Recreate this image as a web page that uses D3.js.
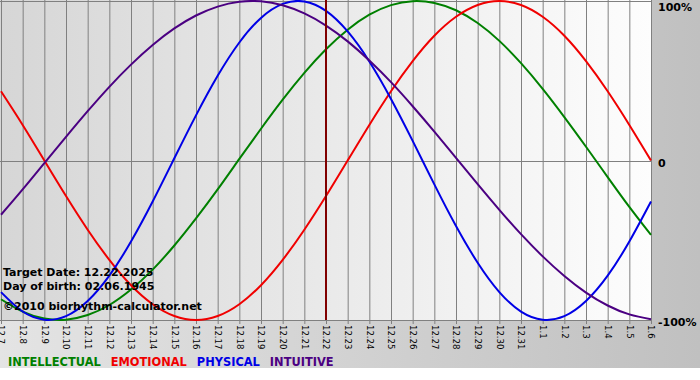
<!DOCTYPE html>
<html>
<head>
<meta charset="utf-8">
<script src="https://cdn.jsdelivr.net/npm/d3@7"></script>
<style>
body { margin: 0; background: #fff; }
</style>
</head>
<body>
<svg id="chart" width="700" height="380"></svg>
<script>

var days = ["12.7","12.8","12.9","12.10","12.11","12.12","12.13","12.14","12.15","12.16",
            "12.17","12.18","12.19","12.20","12.21","12.22","12.23","12.24","12.25","12.26",
            "12.27","12.28","12.29","12.30","12.31","1.1","1.2","1.3","1.4","1.5","1.6"];

var intellectual = [-0.87,-0.948,-0.991,-0.998,-0.969,-0.906,-0.809,-0.684,-0.533,-0.363,
                    -0.181,0.01,0.199,0.381,0.549,0.697,0.82,0.914,0.974,0.999,
                    0.988,0.942,0.862,0.75,0.61,0.449,0.272,0.086,-0.104,-0.291,-0.467];
var emotional = [0.434,0.223,0,-0.223,-0.434,-0.623,-0.782,-0.901,-0.975,-1,
                 -0.975,-0.901,-0.782,-0.623,-0.434,-0.223,0,0.223,0.434,0.623,
                 0.782,0.901,0.975,1,0.975,0.901,0.782,0.623,0.434,0.223,0];
var physical = [-0.825,-0.947,-0.998,-0.976,-0.881,-0.722,-0.508,-0.257,0.014,0.283,
                0.531,0.74,0.894,0.982,0.997,0.938,0.809,0.621,0.386,0.123,
                -0.15,-0.411,-0.641,-0.825,-0.947,-0.998,-0.976,-0.881,-0.722,-0.508,-0.257];
var intuitive = [-0.34,-0.181,-0.016,0.148,0.309,0.462,0.601,0.724,0.828,0.909,
                 0.965,0.995,0.998,0.973,0.922,0.846,0.747,0.627,0.491,0.34,
                 0.181,0.016,-0.148,-0.309,-0.462,-0.601,-0.724,-0.828,-0.909,-0.965,-0.995];

var seriesNames = ["INTELLECTUAL","EMOTIONAL","PHYSICAL","INTUITIVE"];
var seriesColors = ["#008000","#f00000","#0000e6","#4b0082"];
var targetDay = "12.22";
var yTicks = [1, 0, -1];
var yTickLabels = ["100%", "0", "-100%"];
var infoLines = ["Target Date: 12.22.2025", "Day of birth: 02.06.1945", "\u00a92010 biorhythm-calculator.net"];

var svg = d3.select("#chart");
var plotLeft = 1, plotRight = 651, plotTop = 1, plotBottom = 320;

var x = d3.scalePoint().domain(days).range([plotLeft, plotRight]);
var y = d3.scaleLinear().domain([-1, 1]).range([plotBottom, plotTop]);

// backgrounds
var defs = svg.append("defs");
var g1 = defs.append("linearGradient").attr("id", "bgOuter");
g1.append("stop").attr("offset", "0%").attr("stop-color", "#e4e4e4");
g1.append("stop").attr("offset", "100%").attr("stop-color", "#c0c0c0");
var g2 = defs.append("linearGradient").attr("id", "bgPlot");
g2.append("stop").attr("offset", "0%").attr("stop-color", "#d6d6d6");
g2.append("stop").attr("offset", "100%").attr("stop-color", "#fdfdfd");
defs.append("clipPath").attr("id", "plotClip")
    .append("rect").attr("x", 0).attr("y", 0).attr("width", plotRight + 1).attr("height", plotBottom + 1);

svg.append("rect").attr("x", 0).attr("y", 0).attr("width", 700).attr("height", 368).attr("fill", "url(#bgOuter)");
svg.append("rect").attr("x", 0).attr("y", 0).attr("width", plotRight).attr("height", plotBottom)
    .attr("fill", "url(#bgPlot)");

// vertical day lines + labels
var ax = svg.append("g")
    .attr("transform", "translate(0," + plotBottom + ")")
    .call(d3.axisBottom(x).tickSize(4));
ax.select(".domain").remove();
ax.selectAll(".tick line").attr("y1", -plotBottom).attr("y2", 4).attr("stroke", "#808080");
ax.selectAll(".tick text")
    .attr("transform", "rotate(90)")
    .attr("text-anchor", "start")
    .attr("x", 5).attr("y", 0).attr("dy", "0.35em")
    .attr("fill", "#000")
    .style("font-family", "'DejaVu Sans Condensed', 'DejaVu Sans', sans-serif")
    .style("font-size", "9.5px");

// horizontal lines
svg.append("g").selectAll("line")
    .data(yTicks)
    .join("line")
    .attr("x1", 0).attr("x2", plotRight)
    .attr("y1", function(d) { return Math.round(y(d)) + 0.5; })
    .attr("y2", function(d) { return Math.round(y(d)) + 0.5; })
    .attr("stroke", "#808080");

// curves
var line = d3.line()
    .x(function(d, i) { return x(days[i]); })
    .y(function(d) { return y(d); })
    .curve(d3.curveNatural);

var allSeries = [intellectual, emotional, physical, intuitive];
svg.append("g").attr("clip-path", "url(#plotClip)")
    .selectAll("path")
    .data(allSeries)
    .join("path")
    .attr("d", line)
    .attr("fill", "none")
    .attr("stroke", function(d, i) { return seriesColors[i]; })
    .attr("stroke-width", 2);

// target date line
svg.append("line")
    .attr("x1", x(targetDay)).attr("x2", x(targetDay))
    .attr("y1", 0).attr("y2", plotBottom)
    .attr("stroke", "#800000").attr("stroke-width", 2);

// right labels
svg.append("g").selectAll("text")
    .data(yTicks)
    .join("text")
    .attr("x", 658)
    .attr("y", function(d) { return Math.max(y(d) + 6, 11); })
    .text(function(d, i) { return yTickLabels[i]; })
    .style("font-family", "'DejaVu Sans', Verdana, sans-serif")
    .style("font-size", "11px")
    .style("font-weight", "bold");

// info text
svg.append("g").selectAll("text")
    .data(infoLines)
    .join("text")
    .attr("x", 3)
    .attr("y", function(d, i) { return [276, 290, 310][i]; })
    .text(function(d) { return d; })
    .style("font-family", "'DejaVu Sans', Verdana, sans-serif")
    .style("font-size", "11px")
    .style("font-weight", "bold");

// legend
var lx = 8;
var legend = svg.append("g");
seriesNames.forEach(function(name, i) {
    var t = legend.append("text")
        .attr("x", lx).attr("y", 366)
        .attr("fill", seriesColors[i])
        .text(name)
        .style("font-family", "'DejaVu Sans', Verdana, sans-serif")
        .style("font-size", "11.4px")
        .style("font-weight", "bold");
    lx += t.node().getComputedTextLength() + 10;
});

</script>
</body>
</html>
